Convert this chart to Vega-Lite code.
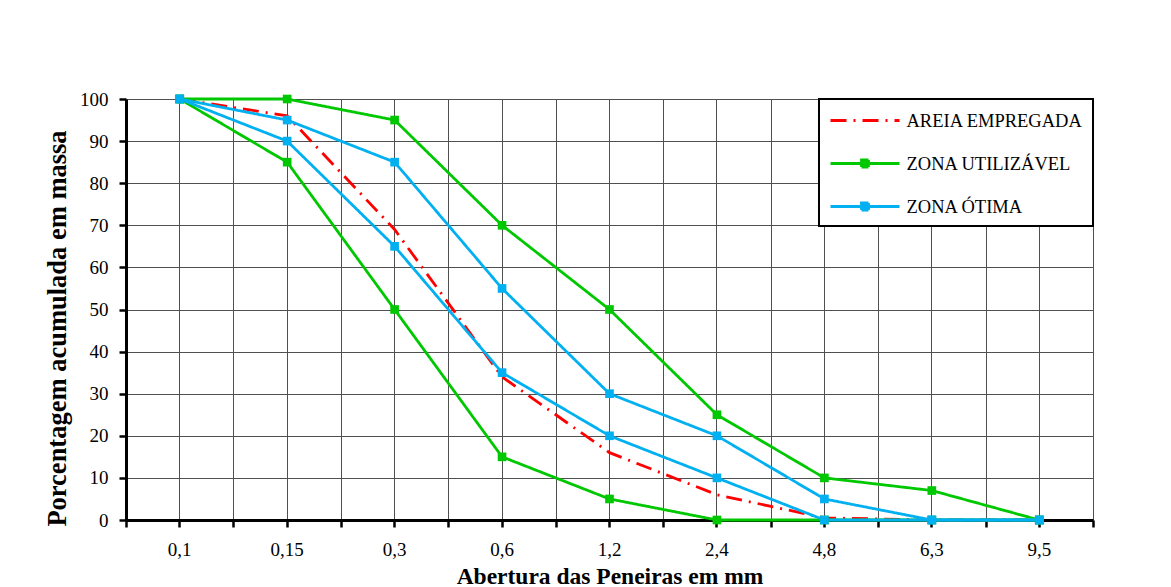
{
  "$schema": "https://vega.github.io/schema/vega-lite/v6.json",
  "width": 967,
  "height": 421,
  "autosize": {"type": "none"},
  "padding": {"left": 126, "top": 99, "right": 78, "bottom": 67},
  "background": "white",
  "config": {
    "view": {"stroke": null},
    "font": "Liberation Serif",
    "axis": {"labelFont": "Liberation Serif", "titleFont": "Liberation Serif"},
    "legend": {"labelFont": "Liberation Serif"}
  },
  "data": {
    "values": [
      {"abertura": "0,1", "serie": "AREIA EMPREGADA", "limite": "única", "valor": 100},
      {"abertura": "0,15", "serie": "AREIA EMPREGADA", "limite": "única", "valor": 96},
      {"abertura": "0,3", "serie": "AREIA EMPREGADA", "limite": "única", "valor": 69},
      {"abertura": "0,6", "serie": "AREIA EMPREGADA", "limite": "única", "valor": 34},
      {"abertura": "1,2", "serie": "AREIA EMPREGADA", "limite": "única", "valor": 16},
      {"abertura": "2,4", "serie": "AREIA EMPREGADA", "limite": "única", "valor": 6},
      {"abertura": "4,8", "serie": "AREIA EMPREGADA", "limite": "única", "valor": 0.5},
      {"abertura": "6,3", "serie": "AREIA EMPREGADA", "limite": "única", "valor": 0},
      {"abertura": "9,5", "serie": "AREIA EMPREGADA", "limite": "única", "valor": 0},

      {"abertura": "0,1", "serie": "ZONA UTILIZÁVEL", "limite": "superior", "valor": 100},
      {"abertura": "0,15", "serie": "ZONA UTILIZÁVEL", "limite": "superior", "valor": 100},
      {"abertura": "0,3", "serie": "ZONA UTILIZÁVEL", "limite": "superior", "valor": 95},
      {"abertura": "0,6", "serie": "ZONA UTILIZÁVEL", "limite": "superior", "valor": 70},
      {"abertura": "1,2", "serie": "ZONA UTILIZÁVEL", "limite": "superior", "valor": 50},
      {"abertura": "2,4", "serie": "ZONA UTILIZÁVEL", "limite": "superior", "valor": 25},
      {"abertura": "4,8", "serie": "ZONA UTILIZÁVEL", "limite": "superior", "valor": 10},
      {"abertura": "6,3", "serie": "ZONA UTILIZÁVEL", "limite": "superior", "valor": 7},
      {"abertura": "9,5", "serie": "ZONA UTILIZÁVEL", "limite": "superior", "valor": 0},

      {"abertura": "0,1", "serie": "ZONA UTILIZÁVEL", "limite": "inferior", "valor": 100},
      {"abertura": "0,15", "serie": "ZONA UTILIZÁVEL", "limite": "inferior", "valor": 85},
      {"abertura": "0,3", "serie": "ZONA UTILIZÁVEL", "limite": "inferior", "valor": 50},
      {"abertura": "0,6", "serie": "ZONA UTILIZÁVEL", "limite": "inferior", "valor": 15},
      {"abertura": "1,2", "serie": "ZONA UTILIZÁVEL", "limite": "inferior", "valor": 5},
      {"abertura": "2,4", "serie": "ZONA UTILIZÁVEL", "limite": "inferior", "valor": 0},
      {"abertura": "4,8", "serie": "ZONA UTILIZÁVEL", "limite": "inferior", "valor": 0},
      {"abertura": "6,3", "serie": "ZONA UTILIZÁVEL", "limite": "inferior", "valor": 0},
      {"abertura": "9,5", "serie": "ZONA UTILIZÁVEL", "limite": "inferior", "valor": 0},

      {"abertura": "0,1", "serie": "ZONA ÓTIMA", "limite": "superior", "valor": 100},
      {"abertura": "0,15", "serie": "ZONA ÓTIMA", "limite": "superior", "valor": 95},
      {"abertura": "0,3", "serie": "ZONA ÓTIMA", "limite": "superior", "valor": 85},
      {"abertura": "0,6", "serie": "ZONA ÓTIMA", "limite": "superior", "valor": 55},
      {"abertura": "1,2", "serie": "ZONA ÓTIMA", "limite": "superior", "valor": 30},
      {"abertura": "2,4", "serie": "ZONA ÓTIMA", "limite": "superior", "valor": 20},
      {"abertura": "4,8", "serie": "ZONA ÓTIMA", "limite": "superior", "valor": 5},
      {"abertura": "6,3", "serie": "ZONA ÓTIMA", "limite": "superior", "valor": 0},
      {"abertura": "9,5", "serie": "ZONA ÓTIMA", "limite": "superior", "valor": 0},

      {"abertura": "0,1", "serie": "ZONA ÓTIMA", "limite": "inferior", "valor": 100},
      {"abertura": "0,15", "serie": "ZONA ÓTIMA", "limite": "inferior", "valor": 90},
      {"abertura": "0,3", "serie": "ZONA ÓTIMA", "limite": "inferior", "valor": 65},
      {"abertura": "0,6", "serie": "ZONA ÓTIMA", "limite": "inferior", "valor": 35},
      {"abertura": "1,2", "serie": "ZONA ÓTIMA", "limite": "inferior", "valor": 20},
      {"abertura": "2,4", "serie": "ZONA ÓTIMA", "limite": "inferior", "valor": 10},
      {"abertura": "4,8", "serie": "ZONA ÓTIMA", "limite": "inferior", "valor": 0},
      {"abertura": "6,3", "serie": "ZONA ÓTIMA", "limite": "inferior", "valor": 0},
      {"abertura": "9,5", "serie": "ZONA ÓTIMA", "limite": "inferior", "valor": 0}
    ]
  },
  "encoding": {
    "x": {
      "field": "abertura",
      "type": "ordinal",
      "sort": ["0,1", "0,15", "0,3", "0,6", "1,2", "2,4", "4,8", "6,3", "9,5"],
      "scale": {"type": "band", "paddingInner": 0, "paddingOuter": 0}
    },
    "y": {
      "field": "valor",
      "type": "quantitative",
      "scale": {"domain": [0, 100], "nice": false},
      "axis": {
        "title": "Porcentagem acumulada em massa",
        "titleFontSize": 26.5,
        "titleFontWeight": "bold",
        "titleColor": "black",
        "titlePadding": 8,
        "titleY": 229,
        "values": [0, 10, 20, 30, 40, 50, 60, 70, 80, 90, 100],
        "labelFontSize": 19,
        "labelColor": "black",
        "labelPadding": 11,
        "tickSize": 7,
        "tickWidth": 2.5,
        "tickColor": "black",
        "domainColor": "black",
        "domainWidth": 3,
        "grid": true,
        "gridColor": "#505050",
        "gridWidth": 1,
        "gridOpacity": 1
      }
    }
  },
  "layer": [
    {
      "mark": {"type": "line", "strokeWidth": 2.8},
      "encoding": {
        "x": {
          "field": "abertura",
          "type": "ordinal",
          "sort": ["0,1", "0,15", "0,3", "0,6", "1,2", "2,4", "4,8", "6,3", "9,5"],
          "bandPosition": 0.5,
          "axis": {
            "title": "Abertura das Peneiras em mm",
            "orient": "bottom",
            "titleFontSize": 23.5,
            "titleFontWeight": "bold",
            "titleColor": "black",
            "titlePadding": 5,
            "labelAngle": 0,
            "labelFontSize": 19,
            "labelColor": "black",
            "labelPadding": 13,
            "tickSize": 7,
            "tickWidth": 2.5,
            "tickColor": "black",
            "domainColor": "black",
            "domainWidth": 3,
            "grid": true,
            "gridColor": "#505050",
            "gridWidth": 1,
            "gridOpacity": 1
          }
        },
        "detail": {"field": "limite"},
        "color": {
          "field": "serie",
          "type": "nominal",
          "sort": ["AREIA EMPREGADA", "ZONA UTILIZÁVEL", "ZONA ÓTIMA"],
          "scale": {
            "domain": ["AREIA EMPREGADA", "ZONA UTILIZÁVEL", "ZONA ÓTIMA"],
            "range": ["#ff0000", "#00c800", "#00b0f0"]
          },
          "legend": {
            "title": null,
            "orient": "top-right",
            "offset": 0,
            "fillColor": "white",
            "strokeColor": "black",
            "padding": 10,
            "rowPadding": 22,
            "labelFontSize": 18.5,
            "labelLimit": 400,
            "labelColor": "black",
            "labelOffset": 7,
            "symbolSize": 400,
            "symbolOffset": 24.5,
            "symbolStrokeWidth": 2.8,
            "symbolType": "M-3.45,0H3.45M-0.35,-0.35H0.35V0.35H-0.35Z",
            "encode": {
              "legend": {"update": {"strokeWidth": {"value": 2}}},
              "symbols": {
                "update": {
                  "shape": {"signal": "datum.value === 'AREIA EMPREGADA' ? 'M-3.45,0H3.45' : 'M-3.45,0H3.45M-0.35,-0.35H0.35V0.35H-0.35Z'"}
                }
              },
              "labels": {
                "update": {"dx": {"value": 23}}
              }
            }
          }
        },
        "strokeDash": {
          "field": "serie",
          "type": "nominal",
          "scale": {
            "domain": ["AREIA EMPREGADA", "ZONA UTILIZÁVEL", "ZONA ÓTIMA"],
            "range": [[16, 7, 2, 7], [1, 0], [1, 0]]
          },
          "legend": null
        }
      }
    },
    {
      "transform": [{"filter": "datum.serie !== 'AREIA EMPREGADA'"}],
      "mark": {"type": "square", "size": 75, "filled": true, "opacity": 1},
      "encoding": {
        "x": {
          "field": "abertura",
          "type": "ordinal",
          "sort": ["0,1", "0,15", "0,3", "0,6", "1,2", "2,4", "4,8", "6,3", "9,5"],
          "bandPosition": 0.5,
          "axis": {
            "title": null,
            "orient": "bottom",
            "tickBand": "extent",
            "labels": false,
            "domain": false,
            "tickSize": 7,
            "tickWidth": 2.5,
            "tickColor": "black",
            "grid": true,
            "gridColor": "#505050",
            "gridWidth": 1,
            "gridOpacity": 1
          }
        },
        "color": {
          "field": "serie",
          "type": "nominal",
          "legend": null
        }
      }
    }
  ],
  "resolve": {"axis": {"x": "independent"}}
}
